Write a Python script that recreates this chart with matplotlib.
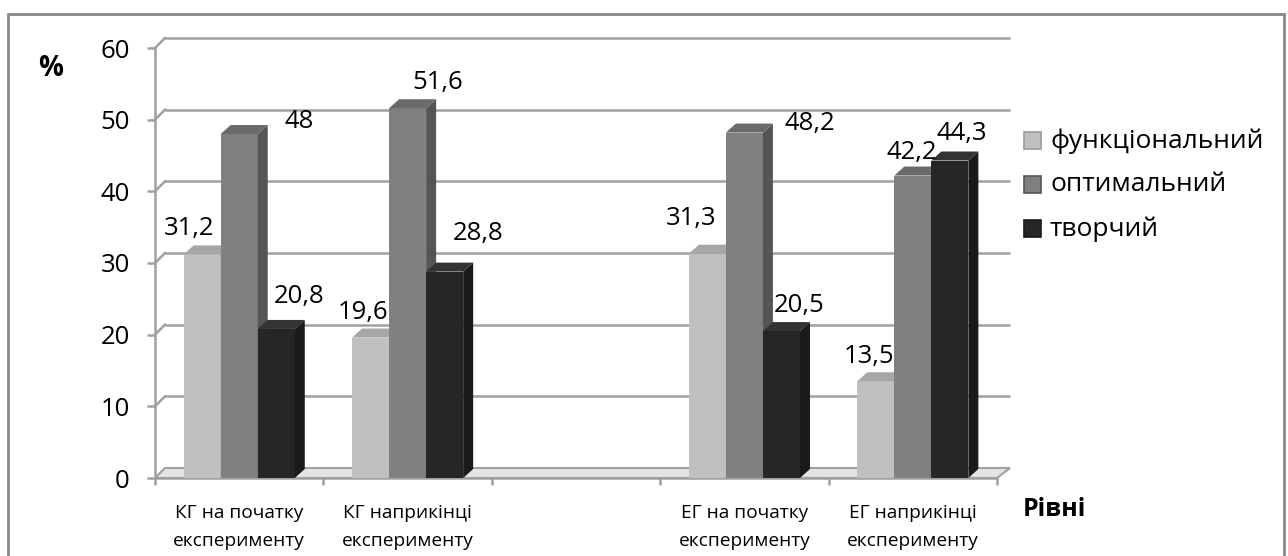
import matplotlib
matplotlib.use("Agg")
import matplotlib.pyplot as plt
from matplotlib.patches import Polygon, Rectangle
from matplotlib.transforms import offset_copy

# ---------------- data ----------------
categories = ["КГ на початку\nексперименту", "КГ наприкінці\nексперименту", "",
              "ЕГ на початку\nексперименту", "ЕГ наприкінці\nексперименту"]
series_names = ["функціональний", "оптимальний", "творчий"]
functional = [31.2, 19.6, None, 31.3, 13.5]
optimal = [48, 51.6, None, 48.2, 42.2]
creative = [20.8, 28.8, None, 20.5, 44.3]
y_ticks = [0, 10, 20, 30, 40, 50, 60]
y_label = "%"
x_label = "Рівні"

series = [functional, optimal, creative]

# ---------------- style ----------------
FONT = ["Open Sans", "DejaVu Sans"]
plt.rcParams["font.family"] = FONT
front_cols = ["#c0c0c0", "#808080", "#262626"]
side_cols = ["#9a9a9a", "#555555", "#1a1a1a"]
top_cols = ["#a6a6a6", "#6a6a6a", "#333333"]
grid_col = "#a0a0a0"
# data-label offsets in pixels (dx, dy) relative to bar front-top centre
label_offsets = [
    [(-13, 26), (-8, 25), None, (-16, 35), (-7, 25)],
    [(60, 13), (30, 26), None, (65, 9), (-1, 23)],
    [(23, 32), (33, 38), None, (18, 26), (12, 27)],
]

W, H = 1288, 556
fig = plt.figure(figsize=(W / 100, H / 100), dpi=100)
ax = fig.add_axes([155 / W, 1 - 478 / H, 842 / W, 430 / H])
ax.set_xlim(-0.5, len(categories) - 0.5)
ax.set_ylim(0, 60)

p0 = ax.transData.transform((0, 0))
p1 = ax.transData.transform((1, 1))
ux, uy = p1[0] - p0[0], p1[1] - p0[1]
gdx, gdy = 10 / ux, 10 / uy      # wall depth
bdx, bdy = 10 / ux, 9 / uy       # bar depth

x0, x1 = -0.5, len(categories) - 0.5

# floor
floor = Polygon([(x0, 0), (x1, 0), (x1 + gdx * 1.3, gdy), (x0 + gdx, gdy)],
                closed=True, facecolor="#e4e4e4", edgecolor=grid_col, lw=1.5,
                zorder=1, clip_on=False)
ax.add_patch(floor)

# gridlines on back wall + side wall diagonals
for v in y_ticks[1:]:
    ax.plot([x0 + gdx, x1 + gdx * 1.3], [v + gdy, v + gdy], color=grid_col, lw=1.8,
            zorder=0.5, clip_on=False, solid_capstyle="butt")
    ax.plot([x0, x0 + gdx], [v, v + gdy], color=grid_col, lw=1.8, zorder=0.5,
            clip_on=False)

# bars
bw = 0.22
offs = [-bw, 0, bw]
for si, vals in enumerate(series):
    xs = [i + offs[si] for i, v in enumerate(vals) if v is not None]
    hs = [v for v in vals if v is not None]
    bars = ax.bar(xs, hs, width=bw, color=front_cols[si], edgecolor="none",
                  zorder=2 + si, label=series_names[si])
    for rect in bars:
        xl = rect.get_x()
        xr = xl + rect.get_width()
        h = rect.get_height()
        side = Polygon([(xr, 0), (xr + bdx, bdy), (xr + bdx, h + bdy), (xr, h)],
                       closed=True, facecolor=side_cols[si], edgecolor="none",
                       zorder=2 + si, clip_on=False)
        top = Polygon([(xl, h), (xr, h), (xr + bdx, h + bdy), (xl + bdx, h + bdy)],
                      closed=True, facecolor=top_cols[si], edgecolor="none",
                      zorder=2 + si, clip_on=False)
        ax.add_patch(side)
        ax.add_patch(top)

# data labels
for si, vals in enumerate(series):
    for i, v in enumerate(vals):
        if v is None:
            continue
        dx, dy = label_offsets[si][i]
        tr = offset_copy(ax.transData, fig=fig, x=dx, y=dy, units="dots")
        ax.text(i + offs[si], v, f"{v:g}".replace(".", ","), transform=tr,
                ha="center", va="center", fontsize=18.5, color="black",
                zorder=10, clip_on=False)

# axes styling
for s in ["top", "right"]:
    ax.spines[s].set_visible(False)
ax.spines["left"].set_color(grid_col)
ax.spines["left"].set_linewidth(1.8)
ax.spines["bottom"].set_color(grid_col)
ax.spines["bottom"].set_linewidth(1.8)
ax.spines["bottom"].set_zorder(1.5)
ax.set_yticks(y_ticks)
ax.set_yticklabels([str(t) for t in y_ticks])
ax.tick_params(axis="y", length=6, width=1.8, color=grid_col, pad=12,
               labelsize=18.5)
cat_pos = [i for i, c in enumerate(categories) if c]
ax.set_xticks(cat_pos)
ax.set_xticklabels([c for c in categories if c], fontsize=13.8, linespacing=1.7)
ax.tick_params(axis="x", length=0, pad=19)
ax.set_xticks([x0 + k for k in range(len(categories) + 1)], minor=True)
ax.tick_params(axis="x", which="minor", length=5, width=1.8, color=grid_col)
ax.set_facecolor("none")

fig.text(51 / W, 1 - 68 / H, y_label, fontsize=20, fontweight="bold",
         ha="center", va="center")
fig.text(1054 / W, 1 - 510 / H, x_label, fontsize=18, fontweight="bold",
         ha="center", va="center")

# legend (manual)
leg_y = [141, 185, 229]
for si, name in enumerate(series_names):
    yc = leg_y[si]
    fig.patches.append(Rectangle((1024 / W, 1 - (yc + 8) / H), 17 / W, 17 / H,
                                 transform=fig.transFigure, facecolor=front_cols[si],
                                 edgecolor=side_cols[si], lw=1.2))
    fig.text(1050 / W, 1 - yc / H, name, fontsize=19, ha="left", va="center")

# outer border
fig.patches.append(Rectangle((8 / W, -0.05), (1284 - 8) / W, 1 - 14 / H + 0.05,
                             transform=fig.transFigure, facecolor="none",
                             edgecolor="#888888", lw=2))

fig.savefig("out.png", dpi=100)
